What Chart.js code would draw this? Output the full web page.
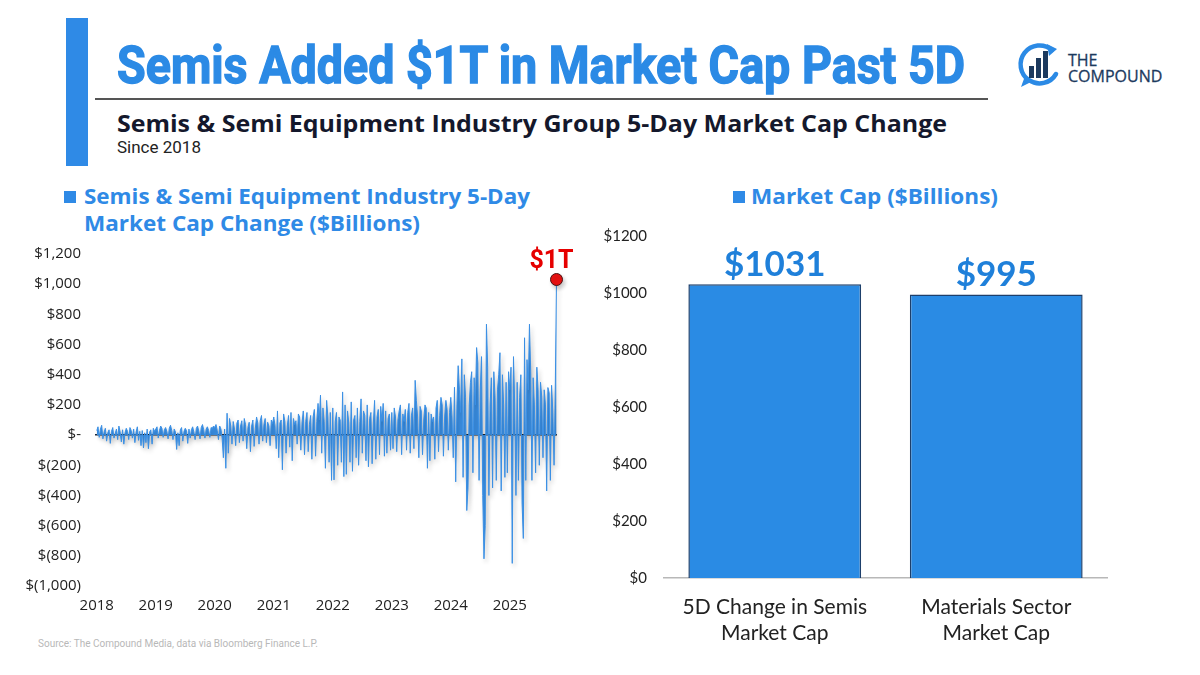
<!DOCTYPE html>
<html>
<head>
<meta charset="utf-8">
<script src="https://cdn.jsdelivr.net/npm/chart.js@4.4.1/dist/chart.umd.min.js"></script>
<style>
  html, body { margin: 0; padding: 0; background: #fff; }
  body { width: 1200px; height: 675px; position: relative; overflow: hidden; font-family: 'Open Sans', sans-serif; }
  .abs { position: absolute; white-space: nowrap; }
  .fit { transform-origin: 0 0; display: inline-block; }
  #vbar { left: 66px; top: 18px; width: 22px; height: 148px; background: #2f8ae6; }
  #title { left: 117px; top: 36px; font: 700 52px Roboto, sans-serif; color: #2b8ae5; line-height: 60px; -webkit-text-stroke: 1.4px #2b8ae5; }
  #rule { left: 95px; top: 98px; width: 893px; height: 2px; background: #555; }
  #subtitle { left: 117px; top: 107px; font: 700 24px 'Open Sans', sans-serif; color: #14182c; line-height: 32px; }
  #since { left: 117px; top: 137px; font: 400 17px Roboto, sans-serif; color: #222; }
  #brand { left: 1068px; top: 52px; font: 500 16px 'Open Sans', sans-serif; color: #1c3a5e; line-height: 16px; -webkit-text-stroke: 0.3px #1c3a5e; }
  .legend { font: 700 21px 'Open Sans', sans-serif; color: #2f8ae6; line-height: 27px; }
  .sq { width: 12px; height: 12px; background: #2f8ae6; }
  #source { left: 38px; top: 638px; font: 400 10px Roboto, sans-serif; color: #b8b8b8; }
  canvas { position: absolute; }
</style>
</head>
<body>
<div id="vbar" class="abs"></div>
<div id="title" class="abs"><span class="fit" data-w="848">Semis Added $1T in Market Cap Past 5D</span></div>
<div id="rule" class="abs"></div>
<div id="subtitle" class="abs"><span class="fit" data-w="830">Semis &amp; Semi Equipment Industry Group 5-Day Market Cap Change</span></div>
<div id="since" class="abs">Since 2018</div>

<svg class="abs" style="left:1016px;top:40px" width="48" height="50" viewBox="0 0 48 50">
  <path d="M36 10 A19 19 0 1 0 40 34" fill="none" stroke="#2b8ae5" stroke-width="4.5" stroke-linecap="round"/>
  <path d="M31 4 L41 9 L33 16 Z" fill="#2b8ae5"/>
  <path d="M9 36 L5 47 L17 41 Z" fill="#2b8ae5"/>
  <rect x="13" y="26" width="5" height="12" fill="#1c3a5e"/>
  <rect x="20" y="18" width="5" height="20" fill="#1c3a5e"/>
  <rect x="27" y="11" width="5" height="27" fill="#1c3a5e"/>
</svg>
<div id="brand" class="abs">THE<br>COMPOUND</div>

<div class="abs sq" style="left:64px;top:191px"></div>
<div class="abs legend" style="left:84px;top:183px"><span class="fit" data-w="446">Semis &amp; Semi Equipment Industry 5-Day</span></div>
<div class="abs legend" style="left:84px;top:210px"><span class="fit" data-w="336">Market Cap Change ($Billions)</span></div>

<div class="abs sq" style="left:733px;top:191px"></div>
<div class="abs legend" style="left:751px;top:183px"><span class="fit" data-w="247">Market Cap ($Billions)</span></div>

<div id="source" class="abs">Source: The Compound Media, data via Bloomberg Finance L.P.</div>

<canvas id="lineChart" width="600" height="390" style="left:0;top:231px"></canvas>
<canvas id="barChart" width="527" height="432" style="left:590px;top:218px"></canvas>

<script>
// ── DATA ───────────────────────────────────────
// 5-day market cap change, $B, about four readings per month
const years = [2018, 2019, 2020, 2021, 2022, 2023, 2024, 2025];
const chg2018 = [30, 55, -15, 40, 65, -25, 20, 45, -40, 15, 35, -55, 25, 50, -20, 10, 40, -30, 60, 20, -45, 35, -60, 15, 45, 25, -30, 50, 30, -20, 40, -50, 20, 55, -35, 25, -70, 30, -85, 15, -50, 40, -90, 20, 35, -60, 45, 25];
const chg2019 = [40, 55, -20, 30, 60, 45, -15, 35, 50, 25, -25, 45, 65, 30, -30, 40, 20, -95, 15, -70, 35, 50, -40, 25, 45, 30, -55, 40, -20, 35, 55, 20, -30, 45, 60, 25, -25, 50, 70, 35, -20, 40, 55, 30, -15, 50, 45, 60];
const chg2020 = [50, 70, 30, -30, 60, 40, -20, -150, 40, -220, 145, -120, 110, 60, -60, 90, 40, -70, 80, 100, -50, 60, 95, -40, 110, 70, -90, 50, 85, -110, 60, 100, -75, 45, 120, 80, -60, 95, 130, -40, 70, 110, -50, 85, 60, -70, 100, 75];
const chg2021 = [120, 60, -90, 160, -150, 80, 100, -230, 140, 90, -120, 60, 130, -80, 150, -170, 110, 70, 95, -60, 140, 120, -100, 80, 160, -130, 90, 150, -110, 70, 130, -160, 120, 170, -140, 90, 210, 100, 265, -120, 180, 90, -220, 230, 120, -180, 150, -300];
const chg2022 = [180, -297, 90, 150, -200, 120, 100, -180, 286, -275, 200, -260, 160, 80, -180, 220, -240, 100, 130, -150, 180, -200, 90, 240, -120, 160, 130, -170, 200, -210, 110, 150, -190, 80, 230, -160, 120, 170, -130, 190, 90, 210, -140, 160, -120, 110, 140, -100];
const chg2023 = [150, -90, 180, 120, -110, 100, 160, 200, -130, 140, 90, 170, -100, 150, 210, -120, 130, 180, -90, 363, 230, 120, -150, 190, 160, -130, 100, 200, 180, -220, 150, -170, 140, 90, 120, -160, 180, 230, -110, 130, 250, 200, -140, 120, 230, 170, -100, 150];
const chg2024 = [250, 120, -150, 317, -310, 200, 460, 300, 150, 505, -280, 400, 250, -500, -350, 200, 350, 420, -250, 380, 200, 580, 480, -300, 300, 520, -400, -820, -600, 735, 450, -400, 200, 380, -350, 420, 250, -300, 300, 400, 546, -370, 400, 200, -280, 350, -250, 420];
const chg2025 = [300, 450, -850, 520, 200, -400, 350, -300, 250, 400, -450, -685, 645, -300, 500, 300, 735, 420, -300, 380, 200, -250, 450, 300, -200, 350, 250, -150, 300, 200, -370, 315, 280, -300, 330, 150, -200, 300, 1031];
const perYear = 48;

const yTicksLeft = { min: -1000, max: 1200, step: 200 };
const xRange = { min: 2017.97, max: 2025.80 };

const barLabels = [['5D Change in Semis', 'Market Cap'], ['Materials Sector', 'Market Cap']];
const barValues = [1031, 995];
const yTicksRight = { min: 0, max: 1200, step: 200 };

const BLUE = '#3a8fe4';

// ── HEADER TEXT FIT ────────────────────────────
document.querySelectorAll('.fit').forEach(el => {
  const w = el.getBoundingClientRect().width;
  const target = +el.dataset.w;
  if (w > 0) el.style.transform = `scaleX(${target / w})`;
});

// ── LEFT CHART ─────────────────────────────────
const series = [chg2018, chg2019, chg2020, chg2021, chg2022, chg2023, chg2024, chg2025];
const points = series.flatMap((arr, k) => arr.map((v, i) => ({ x: years[k] + i / perYear, y: v })));
const lastIdx = points.length - 1;

function acct(v) {
  if (v === 0) return '$-';
  const s = Math.abs(v).toLocaleString('en-US');
  return v < 0 ? `$(${s})` : `$${s}`;
}

const shadowPlugin = {
  id: 'shadow',
  beforeDatasetsDraw(chart) {
    const c = chart.ctx;
    c.save();
    c.shadowColor = 'rgba(0,0,0,0.22)';
    c.shadowBlur = 4;
    c.shadowOffsetX = 2;
    c.shadowOffsetY = 3;
  },
  afterDatasetsDraw(chart) { chart.ctx.restore(); }
};

const markerLabel = {
  id: 'markerLabel',
  afterDatasetsDraw(chart) {
    const pt = chart.getDatasetMeta(0).data[lastIdx];
    if (!pt) return;
    const c = chart.ctx;
    c.save();
    c.font = '700 25px Roboto, sans-serif';
    c.fillStyle = '#e60000';
    c.textAlign = 'center';
    c.textBaseline = 'alphabetic';
    c.fillText('$1T', pt.x - 5, pt.y - 12);
    c.restore();
  }
};

new Chart(document.getElementById('lineChart'), {
  type: 'line',
  data: {
    datasets: [{
      data: points,
      borderColor: BLUE,
      backgroundColor: BLUE,
      borderWidth: 1,
      fill: 'origin',
      tension: 0,
      clip: false,
      pointRadius: ctx => ctx.dataIndex === lastIdx ? 6 : 0,
      pointHoverRadius: 0,
      pointBackgroundColor: '#e81212',
      pointBorderColor: '#4a1010',
      pointBorderWidth: 1
    }]
  },
  options: {
    responsive: false,
    animation: false,
    layout: { padding: { top: 4, right: 43, left: 0, bottom: 0 } },
    plugins: { legend: { display: false }, tooltip: { enabled: false } },
    scales: {
      x: {
        type: 'linear',
        min: xRange.min, max: xRange.max,
        grid: { display: false },
        border: { display: false },
        afterFit: s => { s.height = 35; },
        ticks: {
          stepSize: 1, includeBounds: false, autoSkip: false, maxRotation: 0, padding: 3,
          color: '#222', font: { family: 'Open Sans', size: 15 },
          callback: v => Number.isInteger(v) ? String(v) : ''
        }
      },
      y: {
        min: yTicksLeft.min, max: yTicksLeft.max,
        z: 1,
        border: { display: false },
        grid: {
          drawTicks: false,
          color: ctx => ctx.tick && ctx.tick.value === 0 ? '#1e2a3a' : 'rgba(0,0,0,0)',
          lineWidth: 1.6
        },
        afterFit: s => { s.width = 95; },
        ticks: {
          stepSize: yTicksLeft.step, padding: 14,
          color: '#222', font: { family: 'Open Sans', size: 15 },
          callback: v => acct(v)
        }
      }
    }
  },
  plugins: [shadowPlugin, markerLabel]
});

// ── RIGHT CHART ────────────────────────────────
const barValueLabels = {
  id: 'barValueLabels',
  afterDatasetsDraw(chart) {
    const c = chart.ctx;
    c.save();
    c.font = '700 35px Lato, sans-serif';
    c.fillStyle = '#1f80da';
    c.textAlign = 'center';
    c.textBaseline = 'alphabetic';
    chart.getDatasetMeta(0).data.forEach((bar, i) => {
      c.fillText('$' + barValues[i], bar.x, bar.y - 8);
    });
    c.restore();
  }
};

new Chart(document.getElementById('barChart'), {
  type: 'bar',
  data: {
    labels: barLabels,
    datasets: [{
      data: barValues,
      backgroundColor: '#2a8be4',
      borderColor: '#1d3f6b',
      borderWidth: 1.5,
      barPercentage: 0.78,
      categoryPercentage: 1
    }]
  },
  options: {
    responsive: false,
    animation: false,
    layout: { padding: { top: 13, right: 10, left: 0, bottom: 0 } },
    plugins: { legend: { display: false }, tooltip: { enabled: false } },
    scales: {
      x: {
        grid: { display: false },
        border: { display: true, color: '#b8b8b8', width: 1.5 },
        afterFit: s => { s.height = 72; },
        ticks: { color: '#222', padding: 9, font: { family: 'Lato', size: 21 }, maxRotation: 0 }
      },
      y: {
        min: yTicksRight.min, max: yTicksRight.max,
        grid: { display: false },
        border: { display: false },
        afterFit: s => { s.width = 74; },
        ticks: {
          stepSize: yTicksRight.step, padding: 9,
          color: '#222', font: { family: 'Lato', size: 15 },
          callback: v => '$' + v
        }
      }
    }
  },
  plugins: [barValueLabels]
});
</script>
</body>
</html>
